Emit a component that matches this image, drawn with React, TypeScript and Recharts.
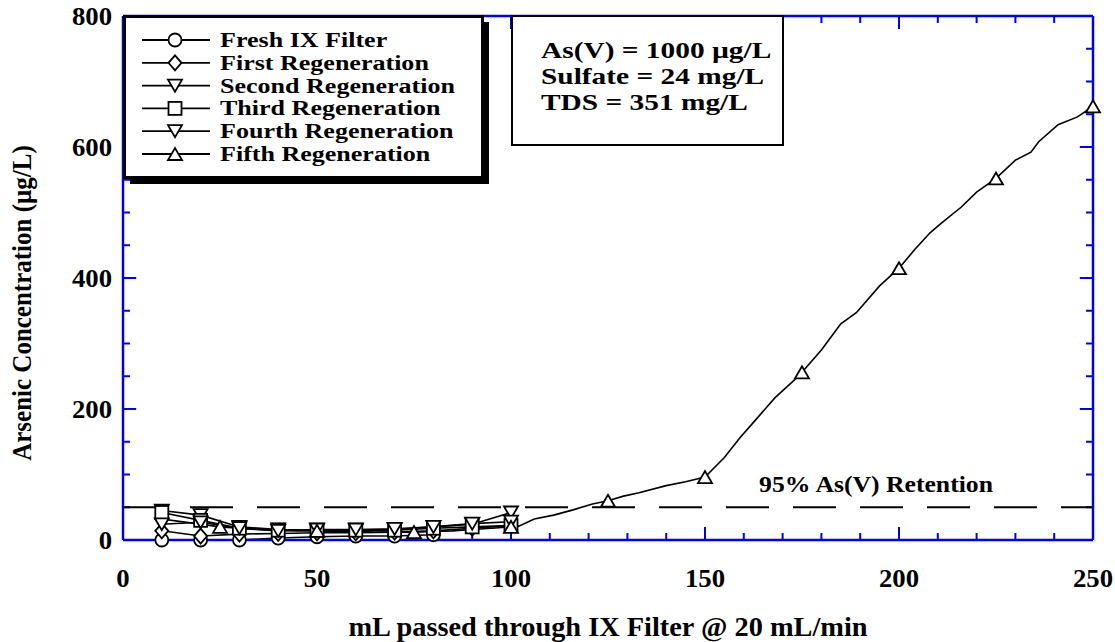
import React from 'react'
import { LineChart, Line, XAxis, YAxis, ReferenceLine, Legend } from 'recharts'

const FONT = '"Liberation Serif", "Times New Roman", serif'
const STRETCH = 1.07
const BLUE = '#0000e6'

// axis ticks (minor every 10 mL / 50 µg/L, labels on the majors)
const xTicks = [0, 10, 20, 30, 40, 50, 60, 70, 80, 90, 100, 110, 120, 130, 140, 150, 160, 170, 180, 190, 200, 210, 220, 230, 240, 250]
const xLabels = [0, 50, 100, 150, 200, 250]
const yTicks = [0, 50, 100, 150, 200, 250, 300, 350, 400, 450, 500, 550, 600, 650, 700, 750, 800]
const yLabels = [0, 200, 400, 600, 800]

// low-volume runs, sampled every 10 mL
const freshX = [10, 20, 30, 40, 50, 60, 70, 80]
const freshY = [0, 0, 0, 3, 5, 6, 6, 8]
const regenX = [10, 20, 30, 40, 50, 60, 70, 80, 90, 100]
const firstY = [14, 6, 9, 10, 11, 11, 12, 14, 18, 22]
const secondY = [45, 38, 20, 16, 15, 15, 16, 20, 24, 42]
const thirdY = [42, 30, 18, 15, 15, 15, 15, 18, 20, 22]
const fourthY = [24, 27, 18, 14, 16, 16, 17, 20, 25, 28]

// fifth regeneration, run to breakthrough
const fifthX = [10, 15, 20, 25, 30, 35, 40, 45, 50, 55, 60, 65, 70, 75, 80, 85, 90, 95, 100, 102, 106, 111, 116, 121, 125, 129, 133, 140, 145, 150, 155, 159, 163, 168, 173, 175, 180, 185, 189, 195, 200, 204, 208, 211, 216, 220, 225, 230, 234, 236, 241, 246, 250]
const fifthY = [32, 28, 24, 20, 18, 16, 15, 14, 14, 13, 13, 12, 12, 12, 13, 14, 16, 18, 20, 21, 32, 38, 46, 55, 60, 67, 72, 83, 89, 96, 126, 156, 183, 217, 244, 256, 290, 330, 347, 388, 415, 443, 469, 484, 508, 531, 552, 580, 592, 608, 634, 646, 662]
const fifthMarkers = [25, 50, 75, 100, 125, 150, 175, 200, 225, 250]

const retentionLimit = 50
const notes = ['As(V) = 1000 µg/L', 'Sulfate = 24 mg/L', 'TDS = 351 mg/L']

const toPoints = (xs: number[], ys: number[]) => xs.map((x, i) => ({ x, y: ys[i] }))

type Shape = 'circle' | 'diamond' | 'down' | 'square' | 'up'

const series: { name: string; shape: Shape; data: { x: number; y: number }[]; markers?: number[] }[] = [
  { name: 'Fresh IX Filter', shape: 'circle', data: toPoints(freshX, freshY) },
  { name: 'First Regeneration', shape: 'diamond', data: toPoints(regenX, firstY) },
  { name: 'Second Regeneration', shape: 'down', data: toPoints(regenX, secondY) },
  { name: 'Third Regeneration', shape: 'square', data: toPoints(regenX, thirdY) },
  { name: 'Fourth Regeneration', shape: 'down', data: toPoints(regenX, fourthY) },
  { name: 'Fifth Regeneration', shape: 'up', data: toPoints(fifthX, fifthY), markers: fifthMarkers },
]

// inward tick lengths, in axis units (≈13 px major / 7 px minor)
const xTickLen = (v: number) => (xLabels.includes(v) ? 20 : 10.7)
const yTickLen = (v: number) => (yLabels.includes(v) ? 3.4 : 1.8)

function Marker({ shape, cx, cy }: { shape: Shape; cx: number; cy: number }) {
  const st = { fill: '#fff', stroke: '#000', strokeWidth: 1.8 }
  switch (shape) {
    case 'circle':
      return <circle cx={cx} cy={cy} r={6.5} {...st} />
    case 'diamond':
      return <polygon points={`${cx},${cy - 7.5} ${cx + 6.5},${cy} ${cx},${cy + 7.5} ${cx - 6.5},${cy}`} {...st} />
    case 'down':
      return <polygon points={`${cx - 7},${cy - 6} ${cx + 7},${cy - 6} ${cx},${cy + 6}`} {...st} />
    case 'square':
      return <rect x={cx - 6.5} y={cy - 6.5} width={13} height={13} {...st} />
    default:
      return <polygon points={`${cx - 7},${cy + 6} ${cx + 7},${cy + 6} ${cx},${cy - 6}`} {...st} />
  }
}

function Txt({ x, y, size, anchor = 'start', sx = STRETCH, children }: any) {
  return (
    <text transform={`translate(${x},${y}) scale(${sx},1)`} textAnchor={anchor}
      fontFamily={FONT} fontWeight="bold" fontSize={size} fill="#000">
      {children}
    </text>
  )
}

const BottomLabel = ({ x, y, payload }: any) =>
  xLabels.includes(payload.value)
    ? <Txt x={x} y={y + 47} size={25} anchor="middle">{payload.value}</Txt>
    : <g />

const LeftLabel = ({ x, y, payload }: any) =>
  yLabels.includes(payload.value)
    ? <Txt x={x - 11} y={y + 9} size={25} anchor="end">{payload.value}</Txt>
    : <g />

const XTitle = ({ viewBox }: any) => (
  <Txt x={viewBox.x + viewBox.width / 2} y={viewBox.y + 96} size={26.5} anchor="middle">
    mL passed through IX Filter @ 20 mL/min
  </Txt>
)

const YTitle = ({ viewBox }: any) => (
  <text transform={`translate(31,${viewBox.y + viewBox.height / 2 + 25}) rotate(-90) scale(1,1.13)`}
    textAnchor="middle" fontFamily={FONT} fontWeight="bold" fontSize={25} fill="#000">
    Arsenic Concentration (µg/L)
  </text>
)

const RetentionLabel = ({ viewBox }: any) => (
  <Txt x={viewBox.x + 753} y={viewBox.y - 15} size={24} anchor="middle">95% As(V) Retention</Txt>
)

function LegendBox() {
  return (
    <svg width={372} height={176} style={{ display: 'block' }}>
      <rect x={7} y={7} width={359} height={162} fill="#000" />
      <rect x={1.5} y={1.5} width={358} height={161} fill="#fff" stroke="#000" strokeWidth={3} />
      {series.map((s, i) => {
        const cy = 25 + i * 22.8
        return (
          <g key={s.name}>
            <line x1={19} x2={87} y1={cy} y2={cy} stroke="#000" strokeWidth={1.8} />
            <Marker shape={s.shape} cx={52} cy={cy} />
            <Txt x={97} y={cy + 7} size={21} sx={1.24}>{s.name}</Txt>
          </g>
        )
      })}
    </svg>
  )
}

export default function App() {
  const tickStyle = { stroke: BLUE, strokeWidth: 2, ifOverflow: 'visible' as const }
  return (
    <div style={{ position: 'absolute', left: 0, top: 0, width: 1115, height: 642, background: '#fff' }}>
      <LineChart width={1115} height={642} margin={{ top: 15, right: 21, bottom: 0, left: 0 }}>
        <XAxis dataKey="x" type="number" domain={[0, 250]} ticks={xTicks} interval={0} height={102}
          tickSize={0} tickMargin={0} tickLine={false} axisLine={{ stroke: BLUE, strokeWidth: 2.5 }}
          tick={<BottomLabel />} label={XTitle} />
        <XAxis xAxisId="top" orientation="top" dataKey="x" type="number" domain={[0, 250]}
          height={1} tick={false} tickLine={false} axisLine={{ stroke: BLUE, strokeWidth: 2.5 }} />
        <YAxis type="number" domain={[0, 800]} ticks={yTicks} interval={0} width={123}
          tickSize={0} tickMargin={0} tickLine={false} axisLine={{ stroke: BLUE, strokeWidth: 2.5 }}
          tick={<LeftLabel />} label={YTitle} />
        <YAxis yAxisId="right" orientation="right" type="number" domain={[0, 800]}
          width={1} tick={false} tickLine={false} axisLine={{ stroke: BLUE, strokeWidth: 2.5 }} />
        {xTicks.map((t) => (
          <ReferenceLine key={`xb-${t}`} segment={[{ x: t, y: 0 }, { x: t, y: xTickLen(t) }]} {...tickStyle} />
        ))}
        {xTicks.map((t) => (
          <ReferenceLine key={`xt-${t}`} segment={[{ x: t, y: 800 }, { x: t, y: 800 - xTickLen(t) }]} {...tickStyle} />
        ))}
        {yTicks.map((t) => (
          <ReferenceLine key={`yl-${t}`} segment={[{ x: 0, y: t }, { x: yTickLen(t), y: t }]} {...tickStyle} />
        ))}
        {yTicks.map((t) => (
          <ReferenceLine key={`yr-${t}`} segment={[{ x: 250, y: t }, { x: 250 - yTickLen(t), y: t }]} {...tickStyle} />
        ))}
        <ReferenceLine y={retentionLimit} stroke="#000" strokeWidth={2} strokeDasharray="43 24"
          label={RetentionLabel} />
        {series.map((s) => (
          <Line key={s.name} name={s.name} data={s.data} dataKey="y" type="linear" stroke="#000"
            strokeWidth={1.6} isAnimationActive={false}
            dot={(p: any) =>
              !s.markers || s.markers.includes(p.payload.x)
                ? <Marker key={`m-${p.index}`} shape={s.shape} cx={p.cx} cy={p.cy} />
                : <g key={`m-${p.index}`} />
            } />
        ))}
        <Legend content={LegendBox} layout="vertical" align="center" verticalAlign="middle"
          wrapperStyle={{ left: 123, top: 15, width: 372, height: 176 }} />
      </LineChart>
      <svg width={275} height={132} style={{ position: 'absolute', left: 511, top: 15 }}>
        <rect x={1} y={1} width={271} height={129} fill="#fff" stroke="#000" strokeWidth={2} />
        {notes.map((t, i) => (
          <Txt key={t} x={30} y={43 + i * 26} size={23.5} sx={1.25}>{t}</Txt>
        ))}
      </svg>
    </div>
  )
}
